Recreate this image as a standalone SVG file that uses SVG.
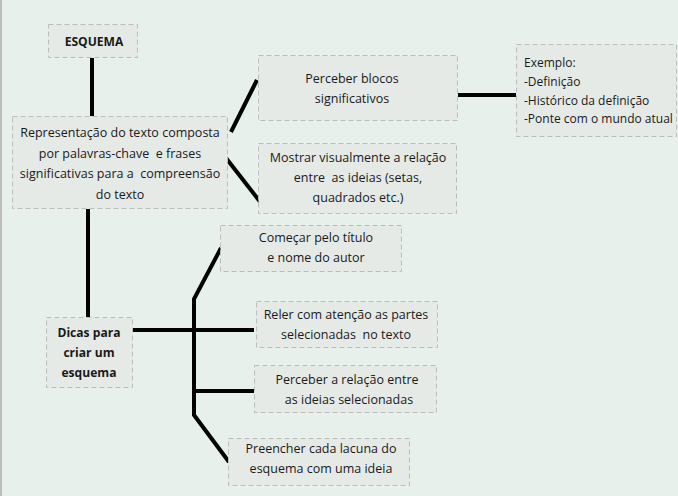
<svg xmlns="http://www.w3.org/2000/svg" width="678" height="496" viewBox="0 0 678 496">
<style>
.bg{fill:#e8f0ec}
.box{fill:#e5eae6;stroke:#bdbdbd;stroke-width:1;stroke-dasharray:5 3}
text{font-family:"Open Sans","Noto Sans",sans-serif;font-size:12.5px;fill:#1a1a1a;text-anchor:middle;white-space:pre}
.b{font-weight:bold;font-size:12.1px}
.l{text-anchor:start;font-size:12px}
.c{stroke:#000;stroke-width:4;fill:none;stroke-linecap:butt}
</style>
<rect class="bg" x="0" y="0" width="678" height="496"/>
<rect x="0" y="0" width="2" height="496" fill="#bcbcbc"/>
<g id="connectors">
<line class="c" x1="92" y1="58" x2="92" y2="116"/>
<line class="c" x1="88" y1="209" x2="88" y2="317"/>
<line class="c" x1="231" y1="132" x2="257" y2="80"/>
<line class="c" x1="226" y1="158" x2="261" y2="203"/>
<line class="c" x1="458" y1="95" x2="516" y2="95"/>
<line class="c" x1="133" y1="330" x2="254" y2="330"/>
<polyline class="c" points="221,248 194,299 194,415 229,462"/>
<line class="c" x1="194" y1="391" x2="254" y2="391"/>
</g>
<g id="esquema">
<rect class="box" x="48.5" y="24.5" width="89" height="33"/>
<text class="b" x="94" y="46">ESQUEMA</text>
</g>
<g id="representacao">
<rect class="box" x="12.5" y="116.5" width="215" height="92"/>
<text x="120" y="137">Representação do texto composta</text>
<text x="120" y="158">por palavras-chave  e frases</text>
<text x="120" y="178">significativas para a  compreensão</text>
<text x="120" y="199">do texto</text>
</g>
<g id="perceber-blocos">
<rect class="box" x="258.5" y="55.5" width="199" height="65"/>
<text x="352" y="83">Perceber blocos</text>
<text x="352" y="103">significativos</text>
</g>
<g id="mostrar">
<rect class="box" x="258.5" y="143.5" width="198" height="70"/>
<text x="358" y="162">Mostrar visualmente a relação</text>
<text x="358" y="182">entre  as ideias (setas,</text>
<text x="358" y="202">quadrados etc.)</text>
</g>
<g id="exemplo">
<rect class="box" x="516.5" y="44.5" width="160" height="92"/>
<text class="l" x="524" y="67">Exemplo:</text>
<text class="l" x="524" y="86">-Definição</text>
<text class="l" x="524" y="105">-Histórico da definição</text>
<text class="l" x="524" y="123">-Ponte com o mundo atual</text>
</g>
<g id="dicas">
<rect class="box" x="46.5" y="317.5" width="86" height="70"/>
<text class="b" x="89" y="337">Dicas para</text>
<text class="b" x="89" y="357">criar um</text>
<text class="b" x="89" y="377">esquema</text>
</g>
<g id="comecar">
<rect class="box" x="220.5" y="225.5" width="181" height="46"/>
<text x="316" y="242">Começar pelo título</text>
<text x="316" y="262">e nome do autor</text>
</g>
<g id="reler">
<rect class="box" x="256.5" y="301.5" width="181" height="46"/>
<text x="346" y="319">Reler com atenção as partes</text>
<text x="346" y="339">selecionadas  no texto</text>
</g>
<g id="perceber-relacao">
<rect class="box" x="254.5" y="365.5" width="182" height="47"/>
<text x="347" y="384">Perceber a relação entre</text>
<text x="349" y="404">as ideias selecionadas</text>
</g>
<g id="preencher">
<rect class="box" x="228.5" y="438.5" width="181" height="47"/>
<text x="321" y="453">Preencher cada lacuna do</text>
<text x="321" y="473">esquema com uma ideia</text>
</g>
</svg>
